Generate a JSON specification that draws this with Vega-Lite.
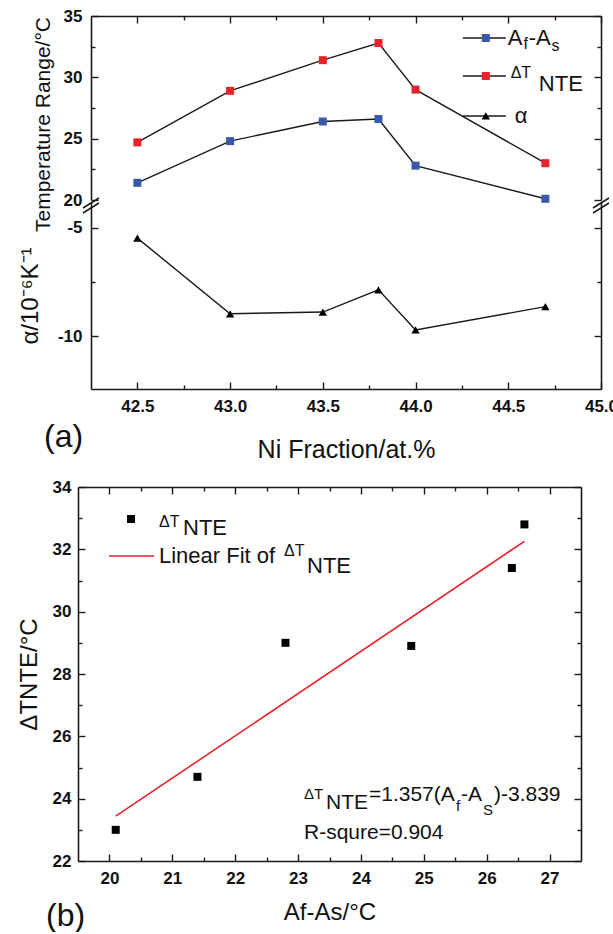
{
  "$schema": "https://vega.github.io/schema/vega-lite/v6.json",
  "padding": {"left": 17, "top": 7, "right": 0, "bottom": 0},
  "background": "white",
  "datasets": {
    "temps": [
      {"ni": 42.5, "series": "afas", "value": 21.4},
      {"ni": 43.0, "series": "afas", "value": 24.8},
      {"ni": 43.5, "series": "afas", "value": 26.4},
      {"ni": 43.8, "series": "afas", "value": 26.6},
      {"ni": 44.0, "series": "afas", "value": 22.8},
      {"ni": 44.7, "series": "afas", "value": 20.1},
      {"ni": 42.5, "series": "dt", "value": 24.7},
      {"ni": 43.0, "series": "dt", "value": 28.9},
      {"ni": 43.5, "series": "dt", "value": 31.4},
      {"ni": 43.8, "series": "dt", "value": 32.8},
      {"ni": 44.0, "series": "dt", "value": 29.0},
      {"ni": 44.7, "series": "dt", "value": 23.0}
    ],
    "alpha": [
      {"ni": 42.5, "alpha": -5.47},
      {"ni": 43.0, "alpha": -8.97},
      {"ni": 43.5, "alpha": -8.89},
      {"ni": 43.8, "alpha": -7.86},
      {"ni": 44.0, "alpha": -9.72},
      {"ni": 44.7, "alpha": -8.64}
    ]
  },
  "config": {
    "view": {"stroke": null},
    "axis": {
      "grid": false, "domainColor": "#1a1a1a", "domainWidth": 1.6,
      "tickColor": "#1a1a1a", "tickWidth": 1.4,
      "labelFont": "Liberation Sans", "labelFontWeight": "bold", "labelFontSize": 17, "labelColor": "#111111",
      "titleFont": "Liberation Sans", "titleFontWeight": "normal", "titleColor": "#111111",
      "labelFlush": false, "labelOverlap": false
    },
    "text": {"font": "Liberation Sans", "color": "#111111"}
  },
  "vconcat": [
    {
      "hconcat": [
        {"data": {"values": [{}]}, "mark": {"type": "point", "opacity": 0}, "encoding": {}, "width": 1, "height": 1},
        {
          "vconcat": [
            {
              "width": 510, "height": 184,
              "data": {"name": "temps"},
              "resolve": {"axis": {"x": "independent", "y": "independent"}},
              "layer": [
                {"mark": {"type": "line", "color": "#1a1a1a", "strokeWidth": 1.4},
                 "encoding": {
                   "x": {"field": "ni", "type": "quantitative", "scale": {"domain": [42.25, 45], "nice": false, "zero": false},
                         "axis": {"orient": "top", "values": [42.5, 43, 43.5, 44, 44.5, 45], "tickSize": -7, "labels": false, "title": null}},
                   "y": {"field": "value", "type": "quantitative", "scale": {"domain": [20, 35], "nice": false, "zero": false},
                         "axis": {"orient": "left", "values": [20, 25, 30, 35], "format": "d", "tickSize": -7, "labelPadding": 16, "title": "Temperature Range/°C", "titleFontSize": 21, "titlePadding": 10, "titleY": 108}},
                   "detail": {"field": "series", "type": "nominal"}}},
                {"mark": {"type": "point", "shape": "square", "filled": true, "size": 64, "opacity": 1},
                 "encoding": {
                   "x": {"field": "ni", "type": "quantitative", "axis": {"orient": "top", "values": [42.75, 43.25, 43.75, 44.25, 44.75], "tickSize": -4, "labels": false, "domain": false, "title": null}},
                   "y": {"field": "value", "type": "quantitative", "axis": {"orient": "left", "values": [22.5, 27.5, 32.5], "tickSize": -4, "labels": false, "domain": false, "title": null}},
                   "color": {"field": "series", "type": "nominal", "scale": {"domain": ["afas", "dt"], "range": ["#3b57a7", "#e8222b"]}, "legend": null}}},
                {"mark": {"type": "point", "opacity": 0},
                 "encoding": {
                   "x": {"field": "ni", "type": "quantitative", "axis": null},
                   "y": {"field": "value", "type": "quantitative", "axis": {"orient": "right", "values": [20, 25, 30, 35], "tickSize": -7, "labels": false, "title": null}}}},
                {"mark": {"type": "point", "opacity": 0},
                 "encoding": {
                   "x": {"field": "ni", "type": "quantitative", "axis": null},
                   "y": {"field": "value", "type": "quantitative", "axis": {"orient": "right", "values": [22.5, 27.5, 32.5], "tickSize": -4, "labels": false, "domain": false, "title": null}}}},
                {"data": {"values": [{}]}, "mark": {"type": "rule", "color": "#1a1a1a", "strokeWidth": 1.4},
                 "encoding": {"x": {"datum": 44.255, "axis": null}, "x2": {"datum": 44.487}, "y": {"datum": 33.207, "axis": null}}},
                {"data": {"values": [{}]}, "mark": {"type": "rule", "color": "#1a1a1a", "strokeWidth": 1.4},
                 "encoding": {"x": {"datum": 44.255, "axis": null}, "x2": {"datum": 44.487}, "y": {"datum": 30.109, "axis": null}}},
                {"data": {"values": [{}]}, "mark": {"type": "rule", "color": "#1a1a1a", "strokeWidth": 1.4},
                 "encoding": {"x": {"datum": 44.255, "axis": null}, "x2": {"datum": 44.487}, "y": {"datum": 26.848, "axis": null}}},
                {"data": {"values": [{}]}, "mark": {"type": "point", "shape": "square", "filled": true, "size": 64, "color": "#3b57a7", "opacity": 1},
                 "encoding": {"x": {"datum": 44.379, "axis": null}, "y": {"datum": 33.207, "axis": null}}},
                {"data": {"values": [{}]}, "mark": {"type": "point", "shape": "square", "filled": true, "size": 64, "color": "#e8222b", "opacity": 1},
                 "encoding": {"x": {"datum": 44.379, "axis": null}, "y": {"datum": 30.109, "axis": null}}},
                {"data": {"values": [{}]}, "mark": {"type": "point", "shape": "triangle-up", "filled": true, "size": 70, "color": "#000000", "opacity": 1},
                 "encoding": {"x": {"datum": 44.379, "axis": null}, "y": {"datum": 26.848, "axis": null}}},
                {"data": {"values": [{"t": "A"}]}, "mark": {"type": "text", "align": "left", "baseline": "middle", "fontSize": 22},
                 "encoding": {"x": {"datum": 44.497, "axis": null}, "y": {"datum": 33.166, "axis": null}, "text": {"field": "t"}}},
                {"data": {"values": [{"t": "f"}]}, "mark": {"type": "text", "align": "left", "baseline": "middle", "fontSize": 16},
                 "encoding": {"x": {"datum": 44.582, "axis": null}, "y": {"datum": 32.717, "axis": null}, "text": {"field": "t"}}},
                {"data": {"values": [{"t": "-A"}]}, "mark": {"type": "text", "align": "left", "baseline": "middle", "fontSize": 22},
                 "encoding": {"x": {"datum": 44.61, "axis": null}, "y": {"datum": 33.166, "axis": null}, "text": {"field": "t"}}},
                {"data": {"values": [{"t": "s"}]}, "mark": {"type": "text", "align": "left", "baseline": "middle", "fontSize": 16},
                 "encoding": {"x": {"datum": 44.733, "axis": null}, "y": {"datum": 32.554, "axis": null}, "text": {"field": "t"}}},
                {"data": {"values": [{"t": "ΔT"}]}, "mark": {"type": "text", "align": "left", "baseline": "middle", "fontSize": 16},
                 "encoding": {"x": {"datum": 44.513, "axis": null}, "y": {"datum": 30.353, "axis": null}, "text": {"field": "t"}}},
                {"data": {"values": [{"t": "NTE"}]}, "mark": {"type": "text", "align": "left", "baseline": "middle", "fontSize": 22},
                 "encoding": {"x": {"datum": 44.665, "axis": null}, "y": {"datum": 29.457, "axis": null}, "text": {"field": "t"}}},
                {"data": {"values": [{"t": "α"}]}, "mark": {"type": "text", "align": "left", "baseline": "middle", "fontSize": 22},
                 "encoding": {"x": {"datum": 44.535, "axis": null}, "y": {"datum": 26.848, "axis": null}, "text": {"field": "t"}}}
              ]
            },
            {
              "width": 510, "height": 187,
              "data": {"name": "alpha"},
              "resolve": {"axis": {"x": "independent", "y": "independent"}},
              "title": {"text": "(a)", "orient": "bottom", "anchor": "start", "frame": "group", "dx": -47, "offset": -40, "fontSize": 32, "font": "Liberation Sans", "fontWeight": "normal", "color": "#111111"},
              "layer": [
                {"mark": {"type": "line", "color": "#1a1a1a", "strokeWidth": 1.4},
                 "encoding": {
                   "x": {"field": "ni", "type": "quantitative", "scale": {"domain": [42.25, 45], "nice": false, "zero": false},
                         "axis": {"orient": "bottom", "values": [42.5, 43, 43.5, 44, 44.5, 45], "format": ".1f", "tickSize": -7, "labelPadding": 16, "title": "Ni Fraction/at.%", "titleFontSize": 25, "titlePadding": 23}},
                   "y": {"field": "alpha", "type": "quantitative", "scale": {"domain": [-12.45, -3.8], "nice": false, "zero": false},
                         "axis": {"orient": "left", "values": [-5, -10], "labelExpr": "toString(datum.value)", "tickSize": -7, "labelPadding": 16, "title": "α/10⁻⁶K⁻¹", "titleFontSize": 24, "titlePadding": 15}}}},
                {"mark": {"type": "point", "shape": "triangle-up", "filled": true, "size": 70, "color": "#000000", "opacity": 1},
                 "encoding": {
                   "x": {"field": "ni", "type": "quantitative", "axis": {"orient": "bottom", "values": [42.75, 43.25, 43.75, 44.25, 44.75], "tickSize": -4, "labels": false, "domain": false, "title": null}},
                   "y": {"field": "alpha", "type": "quantitative", "axis": {"orient": "left", "values": [-7.5], "tickSize": -4, "labels": false, "domain": false, "title": null}}}},
                {"mark": {"type": "point", "opacity": 0},
                 "encoding": {
                   "x": {"field": "ni", "type": "quantitative", "axis": null},
                   "y": {"field": "alpha", "type": "quantitative", "axis": {"orient": "right", "values": [-5, -10], "tickSize": -7, "labels": false, "title": null}}}},
                {"mark": {"type": "point", "opacity": 0},
                 "encoding": {
                   "x": {"field": "ni", "type": "quantitative", "axis": null},
                   "y": {"field": "alpha", "type": "quantitative", "axis": {"orient": "right", "values": [-7.5], "tickSize": -4, "labels": false, "domain": false, "title": null}}}},
                {"data": {"values": [{}]}, "mark": {"type": "rule", "color": "#1a1a1a", "strokeWidth": 1.5},
                 "encoding": {"x": {"datum": 42.207, "axis": null}, "x2": {"datum": 42.293}, "y": {"datum": -4.078, "axis": null}, "y2": {"datum": -3.615}}},
                {"data": {"values": [{}]}, "mark": {"type": "rule", "color": "#1a1a1a", "strokeWidth": 1.5},
                 "encoding": {"x": {"datum": 42.207, "axis": null}, "x2": {"datum": 42.293}, "y": {"datum": -4.309, "axis": null}, "y2": {"datum": -3.846}}},
                {"data": {"values": [{}]}, "mark": {"type": "rule", "color": "#1a1a1a", "strokeWidth": 1.5},
                 "encoding": {"x": {"datum": 44.957, "axis": null}, "x2": {"datum": 45.043}, "y": {"datum": -4.078, "axis": null}, "y2": {"datum": -3.615}}},
                {"data": {"values": [{}]}, "mark": {"type": "rule", "color": "#1a1a1a", "strokeWidth": 1.5},
                 "encoding": {"x": {"datum": 44.957, "axis": null}, "x2": {"datum": 45.043}, "y": {"datum": -4.309, "axis": null}, "y2": {"datum": -3.846}}}
              ]
            }
          ],
          "spacing": 2,
          "bounds": "flush"
        }
      ],
      "spacing": 12,
      "bounds": "flush"
    },
    {
      "width": 503, "height": 374,
      "data": {"name": "temps"},
      "resolve": {"axis": {"x": "independent", "y": "independent"}},
      "title": {"text": "(b)", "orient": "bottom", "anchor": "start", "frame": "group", "dx": -32, "offset": -23, "fontSize": 32, "font": "Liberation Sans", "fontWeight": "normal", "color": "#111111"},
      "layer": [
        {"transform": [{"pivot": "series", "value": "value", "groupby": ["ni"]}],
         "mark": {"type": "point", "shape": "square", "filled": true, "size": 64, "color": "#000000", "opacity": 1},
         "encoding": {
           "x": {"field": "afas", "type": "quantitative", "scale": {"domain": [19.5, 27.5], "nice": false, "zero": false},
                 "axis": {"orient": "bottom", "values": [20, 21, 22, 23, 24, 25, 26, 27], "format": "d", "tickSize": -7, "labelPadding": 16, "title": "Af-As/°C", "titleFontSize": 24, "titlePadding": 14}},
           "y": {"field": "dt", "type": "quantitative", "scale": {"domain": [22, 34], "nice": false, "zero": false},
                 "axis": {"orient": "left", "values": [22, 24, 26, 28, 30, 32, 34], "format": "d", "tickSize": -7, "labelPadding": 14, "title": "ΔTNTE/°C", "titleFontSize": 24, "titlePadding": 11}}}},
        {"transform": [{"pivot": "series", "value": "value", "groupby": ["ni"]}, {"regression": "dt", "on": "afas"}],
         "mark": {"type": "line", "color": "#e8222b", "strokeWidth": 1.6},
         "encoding": {
           "x": {"field": "afas", "type": "quantitative", "axis": {"orient": "bottom", "values": [20.5, 21.5, 22.5, 23.5, 24.5, 25.5, 26.5], "tickSize": -4, "labels": false, "domain": false, "title": null}},
           "y": {"field": "dt", "type": "quantitative", "axis": {"orient": "left", "values": [23, 25, 27, 29, 31, 33], "tickSize": -4, "labels": false, "domain": false, "title": null}}}},
        {"transform": [{"pivot": "series", "value": "value", "groupby": ["ni"]}],
         "mark": {"type": "point", "opacity": 0},
         "encoding": {
           "x": {"field": "afas", "type": "quantitative", "axis": {"orient": "top", "values": [20, 21, 22, 23, 24, 25, 26, 27], "tickSize": -7, "labels": false, "title": null}},
           "y": {"field": "dt", "type": "quantitative", "axis": {"orient": "right", "values": [22, 24, 26, 28, 30, 32, 34], "tickSize": -7, "labels": false, "title": null}}}},
        {"transform": [{"pivot": "series", "value": "value", "groupby": ["ni"]}],
         "mark": {"type": "point", "opacity": 0},
         "encoding": {
           "x": {"field": "afas", "type": "quantitative", "axis": {"orient": "top", "values": [20.5, 21.5, 22.5, 23.5, 24.5, 25.5, 26.5], "tickSize": -4, "labels": false, "domain": false, "title": null}},
           "y": {"field": "dt", "type": "quantitative", "axis": {"orient": "right", "values": [23, 25, 27, 29, 31, 33], "tickSize": -4, "labels": false, "domain": false, "title": null}}}},
        {"data": {"values": [{}]}, "mark": {"type": "point", "shape": "square", "filled": true, "size": 64, "color": "#000000", "opacity": 1},
         "encoding": {"x": {"datum": 20.343, "axis": null}, "y": {"datum": 32.973, "axis": null}}},
        {"data": {"values": [{}]}, "mark": {"type": "rule", "color": "#e8222b", "strokeWidth": 1.6},
         "encoding": {"x": {"datum": 19.993, "axis": null}, "x2": {"datum": 20.709}, "y": {"datum": 31.786, "axis": null}}},
        {"data": {"values": [{"t": "ΔT"}]}, "mark": {"type": "text", "align": "left", "baseline": "middle", "fontSize": 16},
         "encoding": {"x": {"datum": 20.788, "axis": null}, "y": {"datum": 32.877, "axis": null}, "text": {"field": "t"}}},
        {"data": {"values": [{"t": "NTE"}]}, "mark": {"type": "text", "align": "left", "baseline": "middle", "fontSize": 22},
         "encoding": {"x": {"datum": 21.17, "axis": null}, "y": {"datum": 32.685, "axis": null}, "text": {"field": "t"}}},
        {"data": {"values": [{"t": "Linear Fit of"}]}, "mark": {"type": "text", "align": "left", "baseline": "middle", "fontSize": 22},
         "encoding": {"x": {"datum": 20.788, "axis": null}, "y": {"datum": 31.786, "axis": null}, "text": {"field": "t"}}},
        {"data": {"values": [{"t": "ΔT"}]}, "mark": {"type": "text", "align": "left", "baseline": "middle", "fontSize": 16},
         "encoding": {"x": {"datum": 22.776, "axis": null}, "y": {"datum": 31.947, "axis": null}, "text": {"field": "t"}}},
        {"data": {"values": [{"t": "NTE"}]}, "mark": {"type": "text", "align": "left", "baseline": "middle", "fontSize": 22},
         "encoding": {"x": {"datum": 23.142, "axis": null}, "y": {"datum": 31.465, "axis": null}, "text": {"field": "t"}}},
        {"data": {"values": [{"t": "ΔT"}]}, "mark": {"type": "text", "align": "left", "baseline": "middle", "fontSize": 15},
         "encoding": {"x": {"datum": 23.094, "axis": null}, "y": {"datum": 24.15, "axis": null}, "text": {"field": "t"}}},
        {"data": {"values": [{"t": "NTE"}]}, "mark": {"type": "text", "align": "left", "baseline": "middle", "fontSize": 21},
         "encoding": {"x": {"datum": 23.444, "axis": null}, "y": {"datum": 23.861, "axis": null}, "text": {"field": "t"}}},
        {"data": {"values": [{"t": "=1.357(A"}]}, "mark": {"type": "text", "align": "left", "baseline": "middle", "fontSize": 21},
         "encoding": {"x": {"datum": 24.128, "axis": null}, "y": {"datum": 24.118, "axis": null}, "text": {"field": "t"}}},
        {"data": {"values": [{"t": "f"}]}, "mark": {"type": "text", "align": "left", "baseline": "middle", "fontSize": 15},
         "encoding": {"x": {"datum": 25.512, "axis": null}, "y": {"datum": 23.765, "axis": null}, "text": {"field": "t"}}},
        {"data": {"values": [{"t": "-A"}]}, "mark": {"type": "text", "align": "left", "baseline": "middle", "fontSize": 21},
         "encoding": {"x": {"datum": 25.591, "axis": null}, "y": {"datum": 24.118, "axis": null}, "text": {"field": "t"}}},
        {"data": {"values": [{"t": "S"}]}, "mark": {"type": "text", "align": "left", "baseline": "middle", "fontSize": 15},
         "encoding": {"x": {"datum": 25.941, "axis": null}, "y": {"datum": 23.636, "axis": null}, "text": {"field": "t"}}},
        {"data": {"values": [{"t": ")-3.839"}]}, "mark": {"type": "text", "align": "left", "baseline": "middle", "fontSize": 21},
         "encoding": {"x": {"datum": 26.116, "axis": null}, "y": {"datum": 24.118, "axis": null}, "text": {"field": "t"}}},
        {"data": {"values": [{"t": "R-squre=0.904"}]}, "mark": {"type": "text", "align": "left", "baseline": "middle", "fontSize": 21},
         "encoding": {"x": {"datum": 23.094, "axis": null}, "y": {"datum": 22.898, "axis": null}, "text": {"field": "t"}}}
      ]
    }
  ],
  "spacing": 16
}
